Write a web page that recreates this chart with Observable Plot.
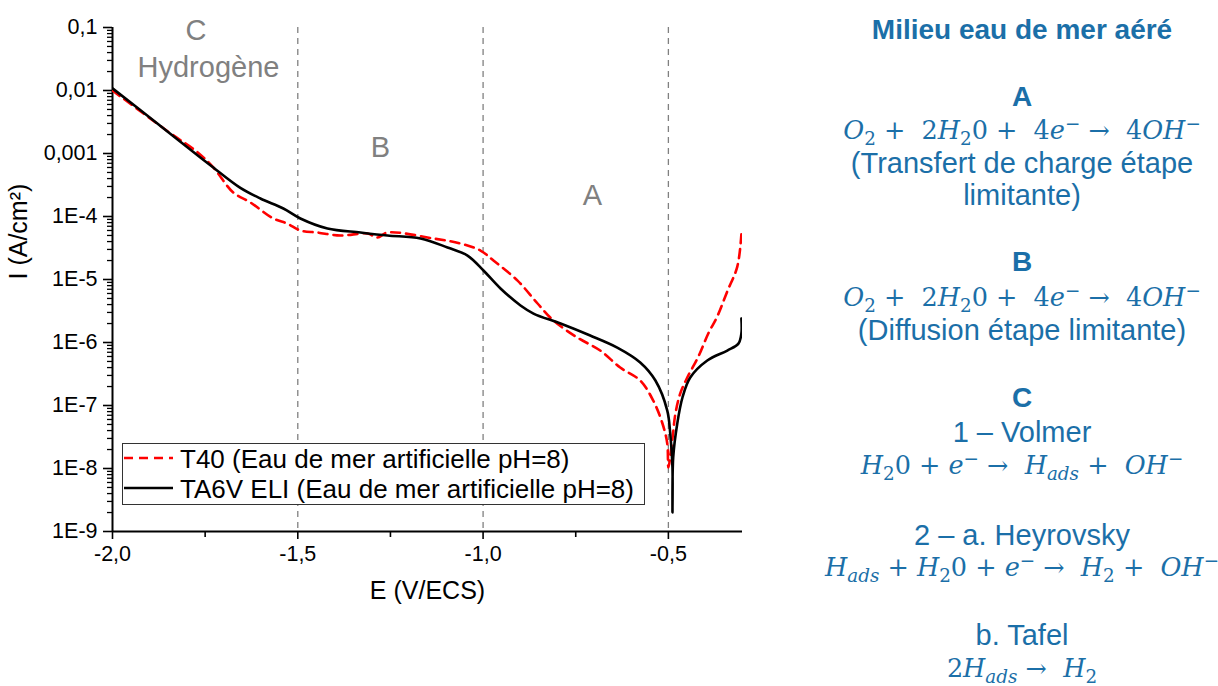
<!DOCTYPE html>
<html><head><meta charset="utf-8">
<script src="https://cdn.jsdelivr.net/npm/d3@7"></script>
<script src="https://cdn.jsdelivr.net/npm/@observablehq/plot@0.6"></script>
<style>
body{margin:0;background:#fff;}
#wrap{position:relative;width:1218px;height:686px;overflow:hidden;font-family:"Liberation Sans",Arial,sans-serif;background:#fff;}
#chart{position:absolute;left:0;top:0;}
#legend{position:absolute;left:122px;top:443px;width:523px;height:62px;border:1px solid #333;background:#fff;box-sizing:border-box;}
.lg{position:absolute;left:0;height:30px;width:100%;font-size:26px;line-height:30px;white-space:nowrap;color:#000;}
.lg svg{position:absolute;left:0;top:0;}
.lg span{position:absolute;left:57px;top:0;}
#panel{position:absolute;left:822px;top:0;width:400px;height:686px;color:#1b6fa8;}
.ln{position:absolute;left:0;width:400px;text-align:center;white-space:nowrap;font-size:29px;line-height:34px;}
.b{font-weight:bold;font-size:28px;}
.m{font-family:"DejaVu Serif",serif;font-size:25.5px;}
.m sub{font-size:0.72em;vertical-align:-0.3em;line-height:0;}
.m sup{font-size:0.72em;vertical-align:0.5em;line-height:0;}
</style></head>
<body><div id="wrap"><div id="chart"></div><div id="legend"></div><div id="panel"></div></div>
<script>
// ---- data ----
const E_TA6V = [-2.0, -1.879, -1.763, -1.728, -1.655, -1.601, -1.539, -1.493, -1.42, -1.331, -1.258, -1.169, -1.096, -1.042, -0.999, -0.953, -0.899, -0.864, -0.791, -0.711, -0.638, -0.576, -0.535, -0.503, -0.495, -0.489, -0.489, -0.487, -0.476, -0.462, -0.441, -0.395, -0.341, -0.311, -0.303, -0.303];
const I_TA6V = [1.08e-2, 3.0e-3, 8.65e-4, 6.0e-4, 2.85e-4, 1.93e-4, 1.34e-4, 9.3e-5, 6.45e-5, 5.57e-5, 4.99e-5, 4.48e-5, 3.22e-5, 2.4e-5, 1.39e-5, 7.2e-6, 3.87e-6, 2.88e-6, 2.0e-6, 1.29e-6, 8.3e-7, 4.82e-7, 2.49e-7, 8.3e-8, 3.6e-8, 1.04e-8, 2.0e-9, 1.5e-8, 5.18e-8, 1.34e-7, 2.78e-7, 5.18e-7, 7.46e-7, 9.6e-7, 1.39e-6, 2.4e-6];
const E_T40 = [-2.0, -1.844, -1.771, -1.728, -1.674, -1.628, -1.566, -1.528, -1.493, -1.447, -1.385, -1.312, -1.285, -1.258, -1.134, -1.061, -1.007, -0.972, -0.907, -0.853, -0.81, -0.746, -0.684, -0.63, -0.576, -0.541, -0.516, -0.503, -0.5, -0.489, -0.481, -0.468, -0.449, -0.419, -0.392, -0.368, -0.341, -0.314, -0.303];
const I_T40 = [1.0e-2, 2.1e-3, 1.05e-3, 6.0e-4, 2.4e-4, 1.67e-4, 9.3e-5, 7.7e-5, 6.0e-5, 5.57e-5, 4.99e-5, 5.37e-5, 4.64e-5, 5.57e-5, 4.48e-5, 3.73e-5, 2.88e-5, 2.0e-5, 9.6e-6, 4.16e-6, 2.23e-6, 1.2e-6, 7.46e-7, 4.0e-7, 2.49e-7, 1.2e-7, 5.18e-8, 2.49e-8, 1.04e-8, 3.0e-8, 7.46e-8, 1.55e-7, 2.78e-7, 6.0e-7, 1.4e-6, 2.6e-6, 6.5e-6, 1.6e-5, 5.2e-5];

const seriesNames = ["T40 (Eau de mer artificielle pH=8)", "TA6V ELI (Eau de mer artificielle pH=8)"];
const seriesColors = ["#ff0000", "#000000"];
const seriesDash = ["9,6", null];

const yTicks = [1e-1, 1e-2, 1e-3, 1e-4, 1e-5, 1e-6, 1e-7, 1e-8, 1e-9];
const yTickLabels = ["0,1", "0,01", "0,001", "1E-4", "1E-5", "1E-6", "1E-7", "1E-8", "1E-9"];
const xTicks = [-2.0, -1.5, -1.0, -0.5];
const xTickLabels = ["-2,0", "-1,5", "-1,0", "-0,5"];
const xMinorTicks = [-1.75, -1.25, -0.75];
const zoneBounds = [-1.5, -1.0, -0.5];
const regionLabels = ["C", "Hydrogène", "B", "A"];
const regionE = [-1.775, -1.741, -1.277, -0.705];
const regionI = [0.09, 0.0232, 1.25e-3, 2.15e-4];

const xLabel = "E (V/ECS)";
const yLabel = "I (A/cm²)";

// minor log ticks
const yMinorTicks = [];
for (let p = -9; p < -1; p++) for (let k = 2; k <= 9; k++) yMinorTicks.push(k * Math.pow(10, p));

const ta6v = E_TA6V.map((e, i) => ({E: e, I: I_TA6V[i]}));
const t40 = E_T40.map((e, i) => ({E: e, I: I_T40[i]}));
const regions = regionLabels.map((t, i) => ({t, E: regionE[i], I: regionI[i]}));

const chart = Plot.plot({
  width: 760, height: 686,
  marginLeft: 112, marginRight: 18, marginTop: 27, marginBottom: 155,
  x: {domain: [-2.0, -0.3]},
  y: {type: "log", domain: [1e-9, 0.1]},
  style: {fontFamily: "'Liberation Sans', Arial, sans-serif", fontSize: "21px", color: "#000", background: "#fff"},
  marks: [
    Plot.ruleX(zoneBounds, {stroke: "#808080", strokeWidth: 1.3, strokeDasharray: "6,5"}),
    Plot.axisY({ticks: yMinorTicks, tickSize: 5, tickFormat: () => "", label: null, stroke: "#000", strokeWidth: 1.3}),
    Plot.axisY({ticks: yTicks, tickSize: 9, tickPadding: 6, label: null, strokeWidth: 1.6,
      tickFormat: d => yTickLabels[yTicks.indexOf(d)], fontSize: 21.5}),
    Plot.axisX({ticks: xMinorTicks, tickSize: 6, tickFormat: () => "", label: null, strokeWidth: 1.6}),
    Plot.axisX({ticks: xTicks, tickSize: 8, tickPadding: 6, label: null, strokeWidth: 1.6,
      tickFormat: d => xTickLabels[xTicks.indexOf(d)], fontSize: 21.5}),
    Plot.ruleX([-2.0], {stroke: "#000", strokeWidth: 2}),
    Plot.ruleY([1e-9], {stroke: "#000", strokeWidth: 2}),
    Plot.text(regions, {x: "E", y: "I", text: "t", fill: "#808080", fontSize: 29}),
    Plot.line(t40, {x: "E", y: "I", stroke: seriesColors[0], strokeWidth: 2.6, strokeDasharray: seriesDash[0], curve: "catmull-rom", clip: true}),
    Plot.line(ta6v, {x: "E", y: "I", stroke: seriesColors[1], strokeWidth: 2.6, curve: "catmull-rom", clip: true}),
    Plot.text([xLabel], {text: d => d, frameAnchor: "bottom", dy: 67, fontSize: 25}),
    Plot.text([yLabel], {text: d => d, frameAnchor: "left", rotate: -90, dx: -94, fontSize: 25})
  ]
});
document.getElementById("chart").appendChild(chart);

// legend
const legend = document.getElementById("legend");
seriesNames.forEach((name, i) => {
  const row = document.createElement("div");
  row.className = "lg";
  row.style.top = (i === 0 ? 0 : 30) + "px";
  row.innerHTML = `<svg width="56" height="30"><line x1="1" x2="50" y1="14" y2="14" stroke="${seriesColors[i]}" stroke-width="2.6" ${seriesDash[i] ? `stroke-dasharray="${seriesDash[i]}"` : ""}/></svg><span>${name}</span>`;
  legend.appendChild(row);
});

// right text panel
const panelLines = [
  ["Milieu eau de mer aéré", 30, "b"],
  ["A", 97, "b"],
  ['<i>O</i><sub>2</sub> + &nbsp;2<i>H</i><sub>2</sub>0 + &nbsp;4<i>e</i><sup>−</sup> → &nbsp;4<i>OH</i><sup>−</sup>', 130, "m"],
  ["(Transfert de charge étape", 163, ""],
  ["limitante)", 195, ""],
  ["B", 262, "b"],
  ['<i>O</i><sub>2</sub> + &nbsp;2<i>H</i><sub>2</sub>0 + &nbsp;4<i>e</i><sup>−</sup> → &nbsp;4<i>OH</i><sup>−</sup>', 297, "m"],
  ["(Diffusion étape limitante)", 330, ""],
  ["C", 398, "b"],
  ["1 – Volmer", 432, ""],
  ['<i>H</i><sub>2</sub>0 + <i>e</i><sup>−</sup> → &nbsp;<i>H</i><sub><i>ads</i></sub> + &nbsp;<i>OH</i><sup>−</sup>', 465, "m"],
  ["2 – a. Heyrovsky", 535, ""],
  ['<i>H</i><sub><i>ads</i></sub> + <i>H</i><sub>2</sub>0 + <i>e</i><sup>−</sup> → &nbsp;<i>H</i><sub>2</sub> + &nbsp;<i>OH</i><sup>−</sup>', 567, "m"],
  ["b. Tafel", 635, ""],
  ['2<i>H</i><sub><i>ads</i></sub> → &nbsp;<i>H</i><sub>2</sub>', 668, "m"]
];
const panel = document.getElementById("panel");
panelLines.forEach(([html, y, cls]) => {
  const d = document.createElement("div");
  d.className = "ln " + cls;
  d.style.top = (y - 17) + "px";
  d.innerHTML = html;
  panel.appendChild(d);
});
</script>
</body></html>
